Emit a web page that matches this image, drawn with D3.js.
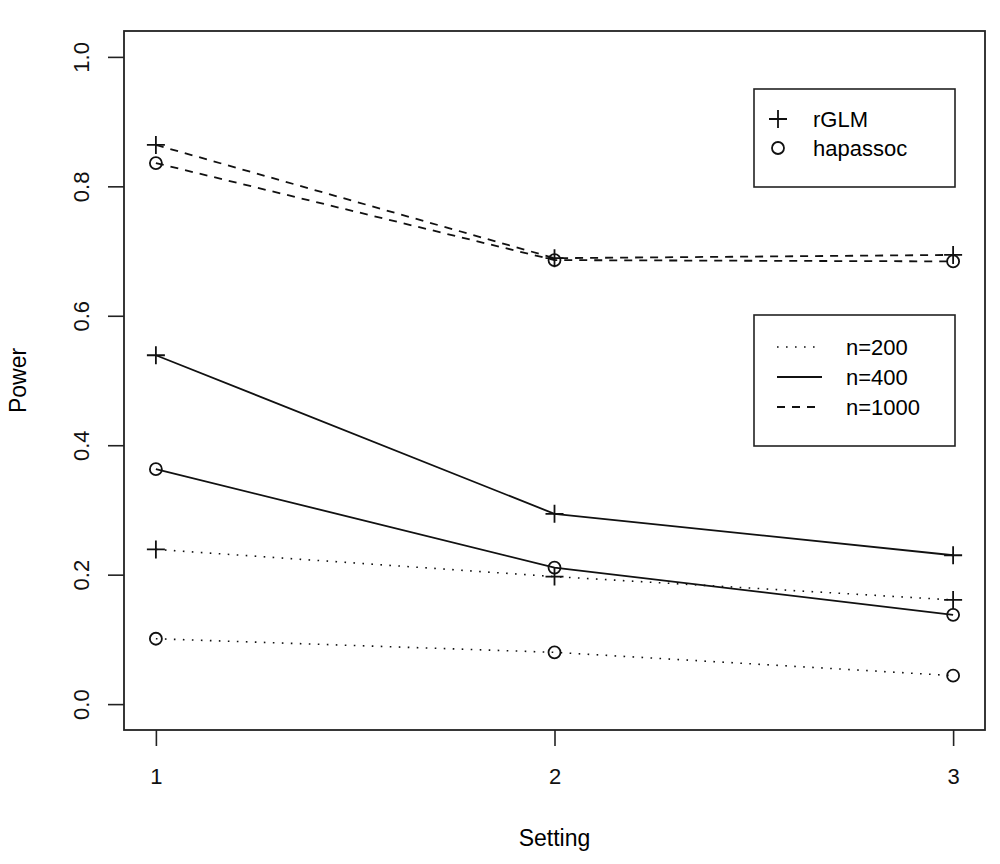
<!DOCTYPE html>
<html>
<head>
<meta charset="utf-8">
<script src="https://cdn.jsdelivr.net/npm/d3@7"></script>
<style>
  body { margin: 0; background: #fff; }
  svg, svg text { font-family: "Liberation Sans", Arial, sans-serif; }
  .axis path, .axis line { stroke: #222; stroke-width: 1.6; }
  .axis text { font-size: 22px; fill: #111; }
</style>
</head>
<body>
<div id="chart"></div>
<script>

// settings on the x axis
const settings = [1, 2, 3];
const xTicks = [1, 2, 3];
const yTicks = [0.0, 0.2, 0.4, 0.6, 0.8, 1.0];

// power
const rglm200 = [0.239, 0.197, 0.161];
const rglm400 = [0.539, 0.294, 0.230];
const rglm1000 = [0.864, 0.689, 0.694];
const hap200 = [0.101, 0.080, 0.044];
const hap400 = [0.363, 0.211, 0.138];
const hap1000 = [0.836, 0.686, 0.684];

const methods = ['rGLM', 'hapassoc'];
const sizes = ['n=200', 'n=400', 'n=1000'];

let dashes = { 'n=200': '1.6,7.4', 'n=400': null, 'n=1000': '8,7' };

let series = [
  { method: 'rGLM', size: 'n=200', values: rglm200 },
  { method: 'rGLM', size: 'n=400', values: rglm400 },
  { method: 'rGLM', size: 'n=1000', values: rglm1000 },
  { method: 'hapassoc', size: 'n=200', values: hap200 },
  { method: 'hapassoc', size: 'n=400', values: hap400 },
  { method: 'hapassoc', size: 'n=1000', values: hap1000 }
];

let width = 1000, height = 864;
let box = { left: 124, right: 985, top: 31, bottom: 730 };

let svg = d3.select('#chart').append('svg')
  .attr('width', width)
  .attr('height', height);

// R style 4% padding around the data range
let xscale = d3.scaleLinear().domain([0.92, 3.08]).range([box.left, box.right]);
let yscale = d3.scaleLinear().domain([-0.04, 1.04]).range([box.bottom, box.top]);

let xAxis = d3.axisBottom(xscale).tickValues(xTicks).tickFormat(d3.format('d'))
  .tickSizeInner(16).tickSizeOuter(0).tickPadding(22);
let yAxis = d3.axisLeft(yscale).tickValues(yTicks).tickFormat(d3.format('.1f'))
  .tickSizeInner(16).tickSizeOuter(0);

let gx = svg.append('g')
  .attr('class', 'x axis')
  .attr('transform', 'translate(0,' + box.bottom + ')')
  .call(xAxis)
  .attr('font-family', null).attr('font-size', null);
gx.select('.domain').remove();

let gy = svg.append('g')
  .attr('class', 'y axis')
  .attr('transform', 'translate(' + box.left + ',0)')
  .call(yAxis)
  .attr('font-family', null).attr('font-size', null);
gy.select('.domain').remove();

// rotated y tick labels, like R's default las=0
gy.selectAll('.tick text')
  .attr('x', null).attr('dy', null)
  .attr('text-anchor', 'middle')
  .attr('transform', 'translate(-35,0) rotate(-90)');

svg.append('rect')
  .attr('x', box.left).attr('y', box.top)
  .attr('width', box.right - box.left)
  .attr('height', box.bottom - box.top)
  .attr('fill', 'none')
  .attr('stroke', '#222')
  .attr('stroke-width', 1.8);

svg.append('text')
  .attr('x', (box.left + box.right) / 2)
  .attr('y', 846)
  .attr('text-anchor', 'middle')
  .style('font-size', '23px')
  .text('Setting');

svg.append('text')
  .attr('transform', 'translate(26,' + ((box.top + box.bottom) / 2) + ') rotate(-90)')
  .attr('text-anchor', 'middle')
  .style('font-size', '23px')
  .text('Power');

// lines
let line = d3.line()
  .x((d, i) => xscale(settings[i]))
  .y(d => yscale(d));

let plot = svg.append('g').attr('class', 'series');

plot.selectAll('.line')
  .data(series)
  .enter()
  .append('path')
    .attr('class', 'line')
    .attr('d', d => line(d.values))
    .attr('fill', 'none')
    .attr('stroke', '#111')
    .attr('stroke-width', d => d.size == 'n=200' ? 1.6 : 1.8)
    .attr('stroke-dasharray', d => dashes[d.size]);

function marker(g, method) {
  if (method == 'rGLM') {
    g.append('path')
      .attr('d', 'M-9,0H9M0,-9V9')
      .attr('stroke', '#111')
      .attr('stroke-width', 1.8)
      .attr('fill', 'none');
  } else {
    g.append('circle')
      .attr('r', 6)
      .attr('stroke', '#111')
      .attr('stroke-width', 1.8)
      .attr('fill', 'none');
  }
}

let points = [];
series.forEach(function(s) {
  s.values.forEach(function(v, i) {
    points.push({ method: s.method, x: settings[i], y: v });
  });
});

plot.selectAll('.pt')
  .data(points)
  .enter()
  .append('g')
    .attr('class', 'pt')
    .attr('transform', d => 'translate(' + xscale(d.x) + ',' + yscale(d.y) + ')')
    .each(function(d) { marker(d3.select(this), d.method); });

// legend for methods
let leg1 = svg.append('g').attr('class', 'legend');
leg1.append('rect')
  .attr('x', 754).attr('y', 89)
  .attr('width', 201).attr('height', 98)
  .attr('fill', 'none').attr('stroke', '#222').attr('stroke-width', 1.6);

methods.forEach(function(m, i) {
  let g = leg1.append('g').attr('transform', 'translate(778,' + (119 + i * 29) + ')');
  marker(g, m);
  leg1.append('text')
    .attr('x', 813).attr('y', 119 + i * 29)
    .attr('dy', '0.35em')
    .style('font-size', '22px')
    .text(m);
});

// legend for sample sizes
let leg2 = svg.append('g').attr('class', 'legend');
leg2.append('rect')
  .attr('x', 754).attr('y', 315)
  .attr('width', 201).attr('height', 131)
  .attr('fill', 'none').attr('stroke', '#222').attr('stroke-width', 1.6);

sizes.forEach(function(s, i) {
  let y = 347 + i * 30;
  leg2.append('line')
    .attr('x1', 777).attr('x2', 822)
    .attr('y1', y).attr('y2', y)
    .attr('stroke', '#111')
    .attr('stroke-width', s == 'n=200' ? 1.6 : 1.8)
    .attr('stroke-dasharray', dashes[s]);
  leg2.append('text')
    .attr('x', 846).attr('y', y)
    .attr('dy', '0.35em')
    .style('font-size', '22px')
    .text(s);
});

</script>
</body>
</html>
